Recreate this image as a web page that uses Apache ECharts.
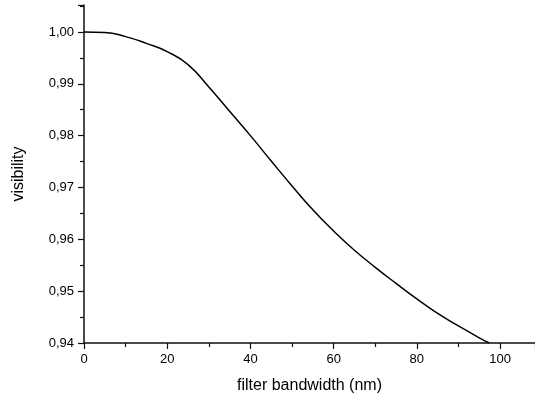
<!DOCTYPE html>
<html>
<head>
<meta charset="utf-8">
<script src="https://cdn.jsdelivr.net/npm/echarts@6/dist/echarts.min.js"></script>
<style>
html,body{margin:0;padding:0;background:#fff;}
#chart{width:535px;height:396px;}
</style>
</head>
<body>
<div id="chart"></div>
<script>
var bandwidth = [0, 5, 10, 15, 20, 25, 30, 35, 40, 45, 50, 55, 60, 65, 70, 75, 80, 85, 90, 95, 97.4];
var visibility = [1.0000, 0.9999, 0.9991, 0.9978, 0.9962, 0.9937, 0.9894, 0.9847, 0.9800, 0.9751, 0.9703, 0.9657, 0.9616, 0.9579, 0.9546, 0.9515, 0.9485, 0.9457, 0.9433, 0.9410, 0.9400];
var xTicks = [0, 20, 40, 60, 80, 100];
var yTicks = [0.94, 0.95, 0.96, 0.97, 0.98, 0.99, 1.00];

var FONT = '"Liberation Sans", Arial, Helvetica, sans-serif';
var data = bandwidth.map(function (x, i) { return [x, visibility[i]]; });

var chart = echarts.init(document.getElementById('chart'), null, {renderer: 'canvas'});
chart.setOption({
  animation: false,
  backgroundColor: '#fff',
  grid: {left: 84, right: 0, top: 5, bottom: 53, containLabel: false, outerBoundsMode: 'none'},
  xAxis: {
    type: 'value',
    min: 0,
    max: 108.4,
    interval: 20,
    name: 'filter bandwidth (nm)',
    nameLocation: 'middle',
    nameGap: 35,
    nameTextStyle: {fontFamily: FONT, fontSize: 16, color: '#000'},
    axisLine: {show: true, lineStyle: {color: '#111', width: 1.5}},
    axisTick: {show: true, inside: false, length: 6, lineStyle: {color: '#111', width: 1.2}},
    minorTick: {show: true, splitNumber: 2, length: 4, lineStyle: {color: '#111', width: 1.2}},
    axisLabel: {
      fontFamily: FONT, fontSize: 13, color: '#000', margin: 10,
      formatter: function (v) {
        for (var i = 0; i < xTicks.length; i++) { if (Math.abs(v - xTicks[i]) < 1e-6) return String(xTicks[i]); }
        return '';
      }
    },
    splitLine: {show: false},
    minorSplitLine: {show: false}
  },
  yAxis: {
    type: 'value',
    min: 0.94,
    max: 1.0052,
    interval: 0.01,
    name: 'visibility',
    nameLocation: 'middle',
    nameGap: 57,
    nameRotate: 90,
    nameTextStyle: {fontFamily: FONT, fontSize: 16, color: '#000'},
    axisLine: {show: true, lineStyle: {color: '#111', width: 1.5}},
    axisTick: {show: true, inside: false, length: 6, lineStyle: {color: '#111', width: 1.2}},
    minorTick: {show: true, splitNumber: 2, length: 4, lineStyle: {color: '#111', width: 1.2}},
    axisLabel: {
      fontFamily: FONT, fontSize: 13, color: '#000', margin: 10,
      formatter: function (v) {
        for (var i = 0; i < yTicks.length; i++) { if (Math.abs(v - yTicks[i]) < 1e-6) return yTicks[i].toFixed(2).replace('.', ','); }
        return '';
      }
    },
    splitLine: {show: false},
    minorSplitLine: {show: false}
  },
  series: [{
    type: 'line',
    data: data,
    smooth: 0.5,
    showSymbol: false,
    symbol: 'none',
    clip: true,
    lineStyle: {color: '#000', width: 1.5}
  }]
});
</script>
</body>
</html>
